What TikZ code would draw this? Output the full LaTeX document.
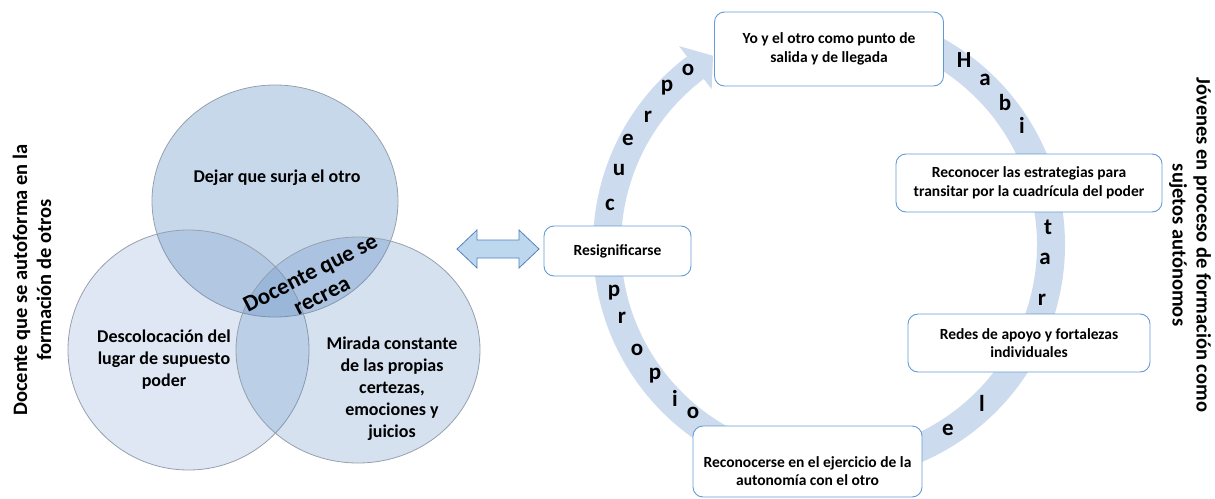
\documentclass[tikz,border=0pt]{standalone}
\usepackage{fontspec}
\setmainfont{Carlito}
\usetikzlibrary{calc}
\definecolor{bandc}{RGB}{205,219,239}
\definecolor{boxline}{RGB}{100,155,212}
\definecolor{vennc}{RGB}{79,129,189}
\definecolor{vennline}{RGB}{150,160,172}
\definecolor{arrfill}{RGB}{189,215,238}
\definecolor{arrline}{RGB}{84,130,190}
\tikzset{
  box/.style={draw=boxline, line width=0.9pt, rounded corners=10pt, fill=white, align=center,
    font=\fontsize{15.5}{18.5}\selectfont\bfseries, inner sep=0pt},
  venntxt/.style={align=center, font=\fontsize{18}{22}\selectfont\bfseries, inner sep=0pt},
  ringletter/.style={font=\fontsize{23}{26}\selectfont\bfseries, inner sep=0pt},
  sidetxt/.style={align=center, font=\fontsize{20.5}{24}\selectfont\bfseries, inner sep=0pt},
  band/.style={draw=bandc, line width=28pt},
  venn/.style={draw=vennline, line width=0.8pt, fill=vennc}
}
\begin{document}
\begin{tikzpicture}[x=1pt,y=-1pt]
\useasboundingbox (0,0) rectangle (1215,498);
% Venn
\draw[venn, fill opacity=0.31] (275,201) ellipse [x radius=123, y radius=116];
\draw[venn, fill opacity=0.19] (188.5,350) ellipse [x radius=120.5, y radius=120];
\draw[venn, fill opacity=0.24] (358,350) ellipse [x radius=122, y radius=113];
\node[venntxt] (v1) at (277,178) {Dejar que surja el otro};
\node[venntxt] (v2) at (164,360) {Descolocación del\\lugar de supuesto\\poder};
\node[venntxt] (v3) at (392,389) {Mirada constante\\de las propias\\certezas,\\emociones  y\\juicios};
\node[venntxt, font=\fontsize{23}{25}\selectfont\bfseries, rotate=27] (v4) at (316,284) {Docente que se\\recrea};
% side texts
\node[sidetxt, rotate=90] (s1) at (32,280) {Docente que se autoforma en la\\formación de otros};
\node[sidetxt, rotate=-90] (s2) at (1190,245) {Jóvenes en proceso de formación como\\sujetos autónomos};
% ring band
\coordinate (rc) at (829,245);
\draw[band] ($(rc)+(233:222)$) arc[start angle=233, end angle=-65, radius=222];
\fill[bandc] ($(rc)+(233:195)$) -- ($(rc)+(238.5:222)$) -- ($(rc)+(233:249)$) -- cycle;
% double arrow
\draw[draw=arrline, fill=arrfill, line width=0.8pt] (457,249) -- (477,230) -- (477,240) -- (519,240) -- (519,230) -- (539,249) -- (519,268) -- (519,258) -- (477,258) -- (477,268) -- cycle;
% boxes
\node[box, minimum width=229, minimum height=74] (b1) at (829,49) {Yo y el otro como punto de\\salida y de llegada};
\node[box, minimum width=266, minimum height=58] (b2) at (1029,183) {Reconocer las estrategias para\\transitar por la cuadrícula del poder};
\node[box, minimum width=242, minimum height=58] (b3) at (1029,343) {Redes de apoyo y fortalezas\\individuales};
\node[box, minimum width=229, minimum height=71] (b4) at (807.5,461.5) {};
\node[box, draw=none, fill=none] (b4t) at (807.5,471) {Reconocerse en el ejercicio de la\\autonomía con el otro};
\node[box, minimum width=147, minimum height=50] (b5) at (617.5,251) {Resignificarse};
% ring letters
\node[ringletter] (c1) at (688,70) {o};
\node[ringletter] (c2) at (667,88) {p};
\node[ringletter] (c3) at (648,117) {r};
\node[ringletter] (c4) at (628,140) {e};
\node[ringletter] (c5) at (619,170) {u};
\node[ringletter] (c6) at (610,205) {c};
\node[ringletter] (d1) at (614,293) {p};
\node[ringletter] (d2) at (622,318) {r};
\node[ringletter] (d3) at (637,350) {o};
\node[ringletter] (d4) at (655,376) {p};
\node[ringletter] (d5) at (675,398) {i};
\node[ringletter] (d6) at (693,413) {o};
\node[ringletter] (h1) at (964,60) {H};
\node[ringletter] (h2) at (985,80) {a};
\node[ringletter] (h3) at (1005,103) {b};
\node[ringletter] (h4) at (1022,125) {i};
\node[ringletter] (h5) at (1048,227) {t};
\node[ringletter] (h6) at (1045,259) {a};
\node[ringletter] (h7) at (1042,300) {r};
\node[ringletter] (h8) at (982,403) {l};
\node[ringletter] (h9) at (948,430) {e};
\end{tikzpicture}
\end{document}
